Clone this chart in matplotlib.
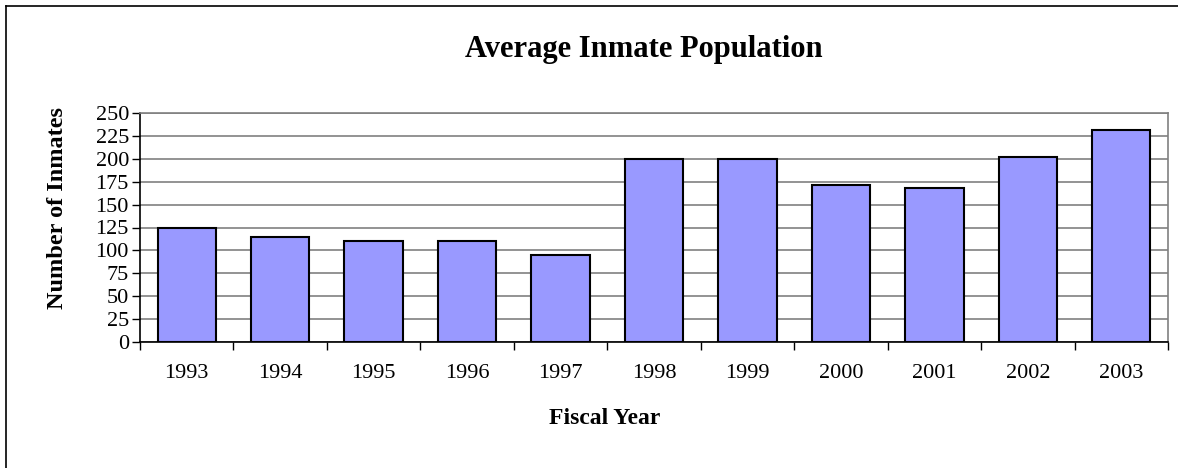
import matplotlib
matplotlib.use("Agg")
import matplotlib.pyplot as plt
from matplotlib.lines import Line2D
import numpy as np

years = ['1993', '1994', '1995', '1996', '1997', '1998', '1999', '2000', '2001', '2002', '2003']
inmates = [125, 115, 110, 110, 95, 200, 200, 171, 168, 202, 232]
yticks = [0, 25, 50, 75, 100, 125, 150, 175, 200, 225, 250]

plt.rcParams['font.family'] = ['Liberation Serif', 'DejaVu Serif']

W, H = 1178, 468
fig = plt.figure(figsize=(W / 100, H / 100), dpi=100)
ax = fig.add_axes([140 / W, 1 - 341.7 / H, (1168 - 140) / W, (341.7 - 113.3) / H])

x = np.arange(len(years))
ax.bar(x, inmates, width=0.625, color='#9999FF', edgecolor='black', linewidth=1.5, zorder=3)

ax.set_xlim(-0.5, len(years) - 0.5)
ax.set_ylim(0, 250)
ax.set_yticks(yticks)
ax.set_yticklabels([str(v) for v in yticks], fontsize=16)
ax.yaxis.grid(True, color='#808080', linewidth=1.2, zorder=0)

# category ticks sit on the boundaries, labels in the middle
ax.set_xticks(np.arange(-0.5, len(years)), minor=False)
ax.set_xticklabels([])
ax.set_xticks(x, minor=True)
ax.set_xticklabels(years, minor=True, fontsize=16)
ax.tick_params(axis='x', which='minor', length=0, pad=16)
ax.tick_params(axis='x', which='major', length=6, width=1, direction='out')
ax.tick_params(axis='y', length=6, width=1, direction='out', pad=2)

for s in ['top', 'right']:
    ax.spines[s].set_color('#808080')
    ax.spines[s].set_linewidth(1.2)
for s in ['left', 'bottom']:
    ax.spines[s].set_color('black')
    ax.spines[s].set_linewidth(1.2)

fig.text(644 / W, 1 - 50 / H, 'Average Inmate Population', ha='center', va='center',
         fontsize=22, fontweight='bold')
fig.text(605 / W, 1 - 418 / H, 'Fiscal Year', ha='center', va='center',
         fontsize=17, fontweight='bold')
fig.text(58 / W, 1 - 208 / H, 'Number of Inmates', ha='center', va='center',
         rotation=90, fontsize=17.5, fontweight='bold')

# outer chart border (top and left only visible)
fig.add_artist(Line2D([5.5 / W, 5.5 / W], [0, 1 - 6 / H], color='black', linewidth=1.2))
fig.add_artist(Line2D([5.5 / W, 1], [1 - 6 / H, 1 - 6 / H], color='black', linewidth=1.2))

fig.savefig('out.png', dpi=100)
